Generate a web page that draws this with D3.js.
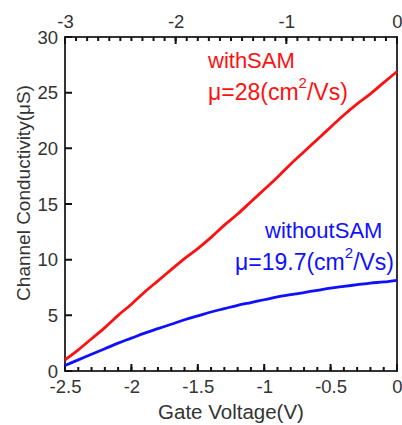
<!DOCTYPE html>
<html>
<head>
<meta charset="utf-8">
<script src="https://cdn.jsdelivr.net/npm/d3@7"></script>
<style>
  body { margin: 0; background: #fff; }
  text { font-family: "Liberation Sans", Arial, sans-serif; }
</style>
</head>
<body>
<svg id="chart" width="402" height="425"></svg>
<script>
// gate voltage samples (V)
const gateV = [-2.5, -2.4, -2.3, -2.2, -2.1, -2.0, -1.9, -1.8, -1.7, -1.6, -1.5, -1.4, -1.3,
               -1.2, -1.1, -1.0, -0.9, -0.8, -0.7, -0.6, -0.5, -0.4, -0.3, -0.2, -0.1, 0];
// channel conductivity (uS)
const withSAM = [1.0, 1.9, 2.9, 3.9, 5.0, 6.0, 7.1, 8.1, 9.1, 10.1, 11.0, 12.0, 13.1,
                 14.1, 15.2, 16.3, 17.4, 18.6, 19.7, 20.8, 21.9, 23.0, 24.0, 24.9, 25.9, 26.9];
const withoutSAM = [0.5, 1.0, 1.5, 2.0, 2.5, 2.95, 3.4, 3.8, 4.2, 4.6, 4.95, 5.3, 5.6,
                    5.9, 6.15, 6.4, 6.65, 6.85, 7.05, 7.25, 7.45, 7.6, 7.75, 7.9, 8.0, 8.15];

const bottomTicks = [-2.5, -2, -1.5, -1, -0.5, 0];
const topTicks = [-3, -2, -1, 0];
const yTicks = [0, 5, 10, 15, 20, 25, 30];

const svg = d3.select("#chart");
const L = 65, R = 397, T = 37, B = 371;
const axisColor = "#333";

const x = d3.scaleLinear().domain([-2.5, 0]).range([L, R]);
const xTop = d3.scaleLinear().domain([-3, 0]).range([L, R]);
const y = d3.scaleLinear().domain([0, 30]).range([B, T]);

// minor ticks every 0.1
const bottomMinor = d3.range(-25, 1).map(d => d / 10);
const topMinor = d3.range(-30, 1).map(d => d / 10);

const fmt = d => d === 0 ? "0" : d3.format("")(d).replace("\u2212", "-");

// labels via d3 axes
const gb = svg.append("g").attr("transform", `translate(0,${B})`)
  .call(d3.axisBottom(x).tickValues(bottomTicks).tickSize(0).tickPadding(14).tickFormat(fmt));
gb.selectAll("text").attr("font-size", 18.5).attr("fill", axisColor).attr("dy", "0.45em");

const gt = svg.append("g").attr("transform", `translate(0,${T})`)
  .call(d3.axisTop(xTop).tickValues(topTicks).tickSize(0).tickPadding(9).tickFormat(fmt));
gt.selectAll("text").attr("font-size", 18.5).attr("fill", axisColor);

const gl = svg.append("g").attr("transform", `translate(${L},0)`)
  .call(d3.axisLeft(y).tickValues(yTicks).tickSize(0).tickPadding(7).tickFormat(fmt));
gl.selectAll("text").attr("font-size", 18.5).attr("fill", axisColor).attr("dy", "0.33em");

svg.selectAll(".domain").remove();

// frame
svg.append("rect").attr("x", L).attr("y", T).attr("width", R - L).attr("height", B - T)
  .attr("fill", "none").attr("stroke", axisColor).attr("stroke-width", 2);

// inward ticks: minor every 0.1, major at labelled values
const tickG = svg.append("g");
function tickPath(vals, scale, y0, dir, len) {
  tickG.append("path")
    .attr("d", vals.map(v => `M${scale(v)},${y0}v${dir * len}`).join(""))
    .attr("stroke", "#111").attr("stroke-width", 2).attr("fill", "none");
}
tickPath(bottomMinor, x, B, -1, 4);
tickPath(bottomTicks, x, B, -1, 7);
tickPath(topMinor, xTop, T, 1, 4);
tickPath(topTicks, xTop, T, 1, 7);
tickG.append("path")
  .attr("d", yTicks.map(v => `M${L},${y(v)}h7`).join(""))
  .attr("stroke", "#111").attr("stroke-width", 2).attr("fill", "none");

// curves
const line = d3.line().x((d, i) => x(gateV[i])).y(d => y(d)).curve(d3.curveMonotoneX);
svg.append("path").datum(withSAM).attr("d", line)
  .attr("fill", "none").attr("stroke", "#ff1010").attr("stroke-width", 2.8);
svg.append("path").datum(withoutSAM).attr("d", line)
  .attr("fill", "none").attr("stroke", "#1010ff").attr("stroke-width", 2.8);

// axis titles
svg.append("text").attr("x", 231).attr("y", 419).attr("text-anchor", "middle")
  .attr("font-size", 20.5).attr("fill", axisColor).text("Gate Voltage(V)");
svg.append("text").attr("transform", "translate(30,193) rotate(-90)").attr("text-anchor", "middle")
  .attr("font-size", 19).attr("fill", axisColor).text("Channel Conductivity(\u03bcS)");

// annotations
function mu(xp, yp, val, color) {
  const t = svg.append("text").attr("x", xp).attr("y", yp).attr("font-size", 23).attr("fill", color);
  t.append("tspan").text(`\u03bc=${val}(cm`);
  t.append("tspan").attr("font-size", 15).attr("dy", -12).text("2");
  t.append("tspan").attr("dy", 12).text("/Vs)");
}
svg.append("text").attr("x", 208).attr("y", 68).attr("font-size", 22).attr("fill", "#ff1010").text("withSAM");
mu(208, 100, "28", "#ff1010");
svg.append("text").attr("x", 265).attr("y", 238).attr("font-size", 22).attr("fill", "#1010ff").text("withoutSAM");
mu(235, 270, "19.7", "#1010ff");
</script>
</body>
</html>
